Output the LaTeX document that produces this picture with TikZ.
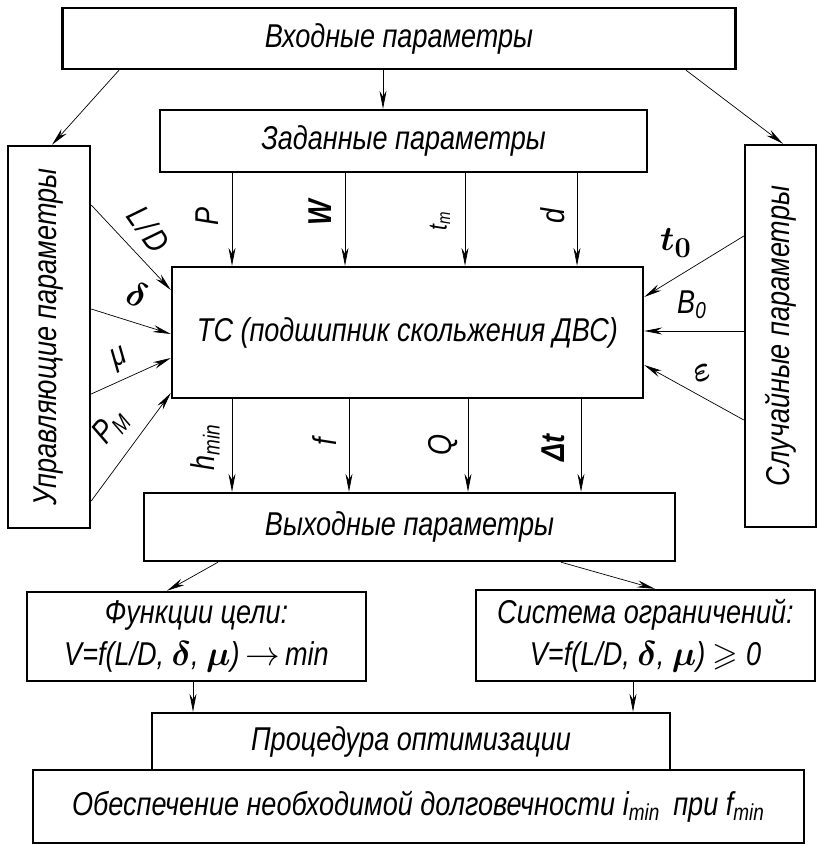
\documentclass[tikz,border=0pt]{standalone}
\usepackage{amsmath}
\usepackage{amssymb}
\usepackage{fontspec}
\setmainfont{Liberation Sans}[FakeStretch=0.82]
\usetikzlibrary{arrows.meta}

\newcommand{\gost}{\itshape\fontsize{16.5}{21}\selectfont}

\begin{document}
\begin{tikzpicture}[
    x=0.5pt, y=-0.5pt,
    block/.style={rectangle, draw=black, line width=1.2pt, inner sep=0pt, align=center, font=\gost},
    arrow/.style={-{Stealth[length=9pt, width=3.5pt]}, line width=0.35pt},
    lbl/.style={inner sep=0pt, font=\gost},
    sym/.style={inner sep=0pt, font=\fontsize{19}{21}\selectfont}
]
\useasboundingbox (0,0) rectangle (818,844);

% Nodes
\node (inp) [block, minimum width=336.5pt, minimum height=30.5pt] at (399,38.5) {Входные параметры};
\node (zad) [block, minimum width=243.5pt, minimum height=31pt] at (403.5,141) {Заданные параметры};
\node (upr) [block, minimum width=41pt, minimum height=191pt] at (49,337) {\rotatebox{90}{Управляющие параметры}};
\node (sl) [block, minimum width=35.5pt, minimum height=191pt] at (780.5,336) {\rotatebox{90}{Случайные параметры}};
\node (tc) [block, minimum width=235.5pt, minimum height=65.5pt] at (407.5,332.5) {ТС (подшипник скольжения ДВС)};
\node (vyh) [block, minimum width=265.5pt, minimum height=34pt] at (409.5,527) {Выходные параметры};
\node (fun) [block, minimum width=169.5pt, minimum height=44.5pt] at (196.5,636.5) {Функции цели:\\ V=f(L/D, $\boldsymbol{\delta}$, $\boldsymbol{\mu}$)\,$\rightarrow$\,min};
\node (sys) [block, minimum width=169.5pt, minimum height=45.5pt] at (645.5,635.5) {Система ограничений:\\ V=f(L/D, $\boldsymbol{\delta}$, $\boldsymbol{\mu}$) $\geqslant$ 0};
\node (proc) [block, minimum width=259pt, minimum height=28.5pt] at (411,741.5) {Процедура оптимизации};
\node (obes) [block, minimum width=385.5pt, minimum height=36.5pt] at (418.5,806.5) {Обеспечение необходимой долговечности i\textsubscript{min}\, при f\textsubscript{min}};

% Labels
\node (lp) [lbl, rotate=90] at (207,216) {P};
\node (lw) [lbl, rotate=90] at (320,213) {\bfseries W};
\node (ltm) [lbl, rotate=90] at (440,221) {\fontsize{13}{14}\selectfont t\textsubscript{m}};
\node (ld) [lbl, rotate=90] at (553,216) {d};
\node (lh) [lbl, rotate=90] at (205,447) {h\textsubscript{min}};
\node (lf) [lbl, rotate=90] at (325,442) {f};
\node (lq) [lbl, rotate=90] at (443,445) {Q};
\node (ldt) [lbl, rotate=90] at (553,448) {\bfseries Δt};
\node (lld) [lbl, rotate=-55] at (149,229) {L\kern1.5pt/\kern1.5pt D};
\node (ldelta) [sym, rotate=-20] at (137,295) {$\boldsymbol{\delta}$};
\node (lmu) [lbl, rotate=25] at (120,359) {μ};
\node (lpm) [lbl, rotate=50] at (111,427) {P\textsubscript{M}};
\node (lt0) [sym] at (676,243) {$\boldsymbol{t}_{\boldsymbol{0}}$};
\node (lb0) [lbl] at (692,305) {B\textsubscript{0}};
\node (leps) [sym, rotate=20] at (702,373) {$\boldsymbol{\varepsilon}$};

% Arrows
\draw [arrow] (inp.south -| 119,0) -- (upr.north -| 52,0);
\draw [arrow] (inp.south -| 383,0) -- (zad.north -| 383,0);
\draw [arrow] (inp.south -| 686,0) -- (sl.north -| 783,0);
\foreach \x in {232,345,465,577}
    \draw [arrow] (zad.south -| \x,0) -- (tc.north -| \x,0);
\foreach \a/\b in {205/290, 309/334, 394/358, 501/393}
    \draw [arrow] (upr.east |- 0,\a) -- (tc.west |- 0,\b);
\foreach \a/\b in {236/297, 331/331, 420/365}
    \draw [arrow] (sl.west |- 0,\a) -- (tc.east |- 0,\b);
\foreach \x in {232,349,468,581}
    \draw [arrow] (tc.south -| \x,0) -- (vyh.north -| \x,0);
\draw [arrow] (vyh.south -| 218,0) -- (fun.north -| 167,0);
\draw [arrow] (vyh.south -| 561,0) -- (sys.north -| 655,0);
\draw [arrow] (fun.south -| 193,0) -- (proc.north -| 193,0);
\draw [arrow] (sys.south -| 633,0) -- (proc.north -| 633,0);

\end{tikzpicture}
\end{document}
